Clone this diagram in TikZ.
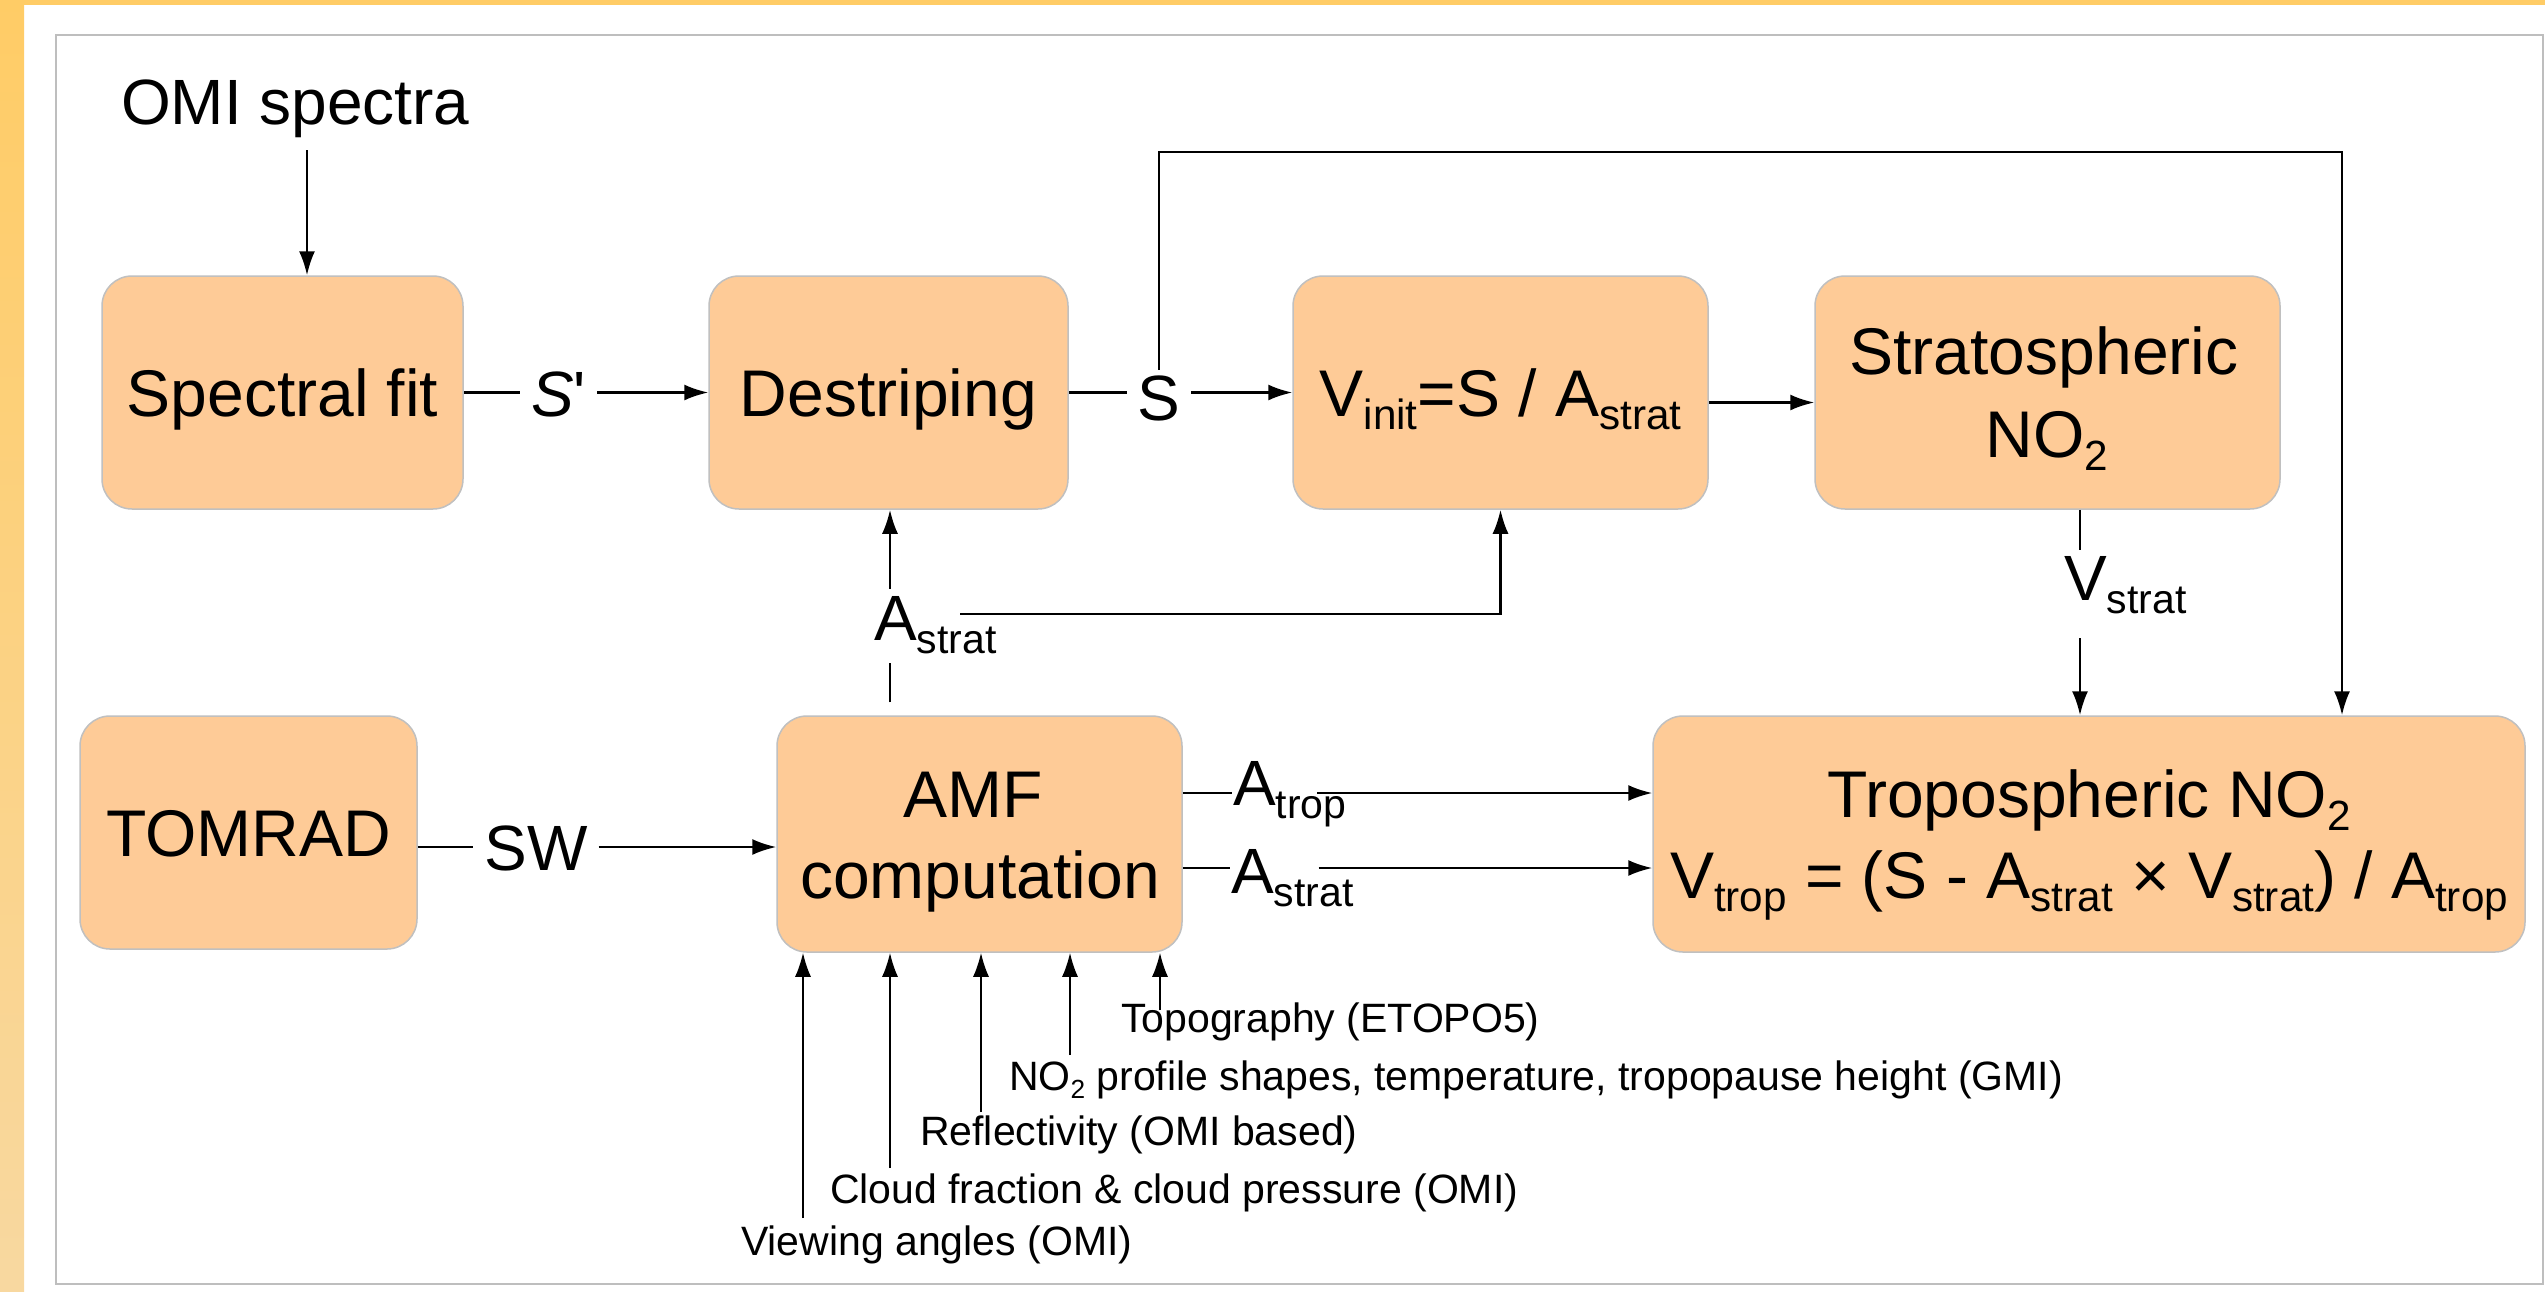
\documentclass[tikz,border=0pt]{standalone}
\usepackage{graphicx}
\usepackage{fontspec}
\setmainfont{Liberation Sans}
\usetikzlibrary{arrows.meta,calc}
\definecolor{boxfill}{HTML}{FECB97}
\definecolor{boxline}{HTML}{C0C0C0}
\definecolor{frameline}{HTML}{BEBEBE}
\definecolor{bandtop}{HTML}{FFCC66}
\definecolor{bandbot}{HTML}{F8D8A0}
\newcommand\lo[1]{\raisebox{-0.21em}{\scalebox{0.64}{#1}}}
\begin{document}
\begin{tikzpicture}[x=1pt,y=-1pt,line width=2.2pt,
  box/.style={draw=boxline,line width=1.5pt,fill=boxfill,rounded corners=30pt,inner sep=0pt,
    text height=47pt,text depth=0pt,font=\fontsize{66}{80}\selectfont},
  btxt/.style={inner sep=0pt,font=\fontsize{66}{80}\selectfont},
  lab/.style={inner sep=0pt,text height=46pt,text depth=0pt,font=\fontsize{64}{76}\selectfont},
  small/.style={inner sep=0pt,font=\fontsize{41}{49}\selectfont},
  arr/.style={-{Latex[length=24pt,width=16pt]}}]
% background and frame
\fill[white] (0,0) rectangle (2545,1291);
\useasboundingbox (0,0) rectangle (2545,1291);
\shade[top color=bandtop,bottom color=bandbot] (0,0) rectangle (24,1291);
\fill[bandtop] (0,0) rectangle (2545,5);
\draw[frameline,line width=2.5pt] (56,35) rectangle (2543,1284);

% boxes
\node[box,minimum width=361pt,minimum height=233pt] (sf) at (282.5,392.5) {Spectral fit};
\node[box,minimum width=359pt,minimum height=233pt] (ds) at (888.5,392.5) {Destriping};
\node[box,minimum width=415pt,minimum height=233pt] (vi) at (1500.5,392.5) {V\lo{init}=S / A\lo{strat}};
\node[box,minimum width=465pt,minimum height=233pt] (st) at (2047.5,392.5) {};
\node[btxt,anchor=base] (st1) at (2044,374) {Stratospheric};
\node[btxt,anchor=base] (st2) at (2047,457) {NO\lo{2}};
\node[box,minimum width=337pt,minimum height=233pt] (tom) at (248.5,832.5) {TOMRAD};
\node[box,minimum width=405pt,minimum height=236pt] (amf) at (979.5,834) {};
\node[btxt,anchor=base] (amf1) at (973,817) {AMF};
\node[btxt,anchor=base] (amf2) at (980,898) {computation};
\node[box,minimum width=872pt,minimum height=236pt] (tr) at (2089,834) {};
\node[btxt,anchor=base] (tr1) at (2089,817) {Tropospheric NO\lo{2}};
\node[btxt,anchor=base] (tr2) at (2089,898) {V\lo{trop} = (S - A\lo{strat} × V\lo{strat}) / A\lo{trop}};

% OMI spectra
\node[inner sep=0pt,font=\fontsize{64}{76}\selectfont,anchor=base west] (omi) at (120,124) {OMI spectra};
\coordinate (omiA) at (307,150);
\draw[arr] (omiA) -- (omiA |- sf.north);

% S'
\node[lab,inner xsep=10pt,anchor=base west] (sp) at (520,416) {\textit{S}\textquotesingle};
\draw (sf.east) -- (sf.east -| sp.west);
\draw[arr] (sp.east |- sf.east) -- (ds.west);

% S
\node[lab,inner xsep=10pt,inner ysep=3pt,anchor=base] (sl) at (1159,420) {S};
\coordinate (loop) at (2342,152);
\draw (ds.east) -- (ds.east -| sl.west);
\draw[arr] (sl.east |- ds.east) -- (vi.west);
\draw[arr] (sl.north) |- (loop) -- (loop |- tr.north);

% Vinit -> strat
\draw[arr] ([yshift=-10pt]vi.east) -- ([yshift=-10pt]st.west);

% V_strat
\node[lab,inner ysep=3pt,anchor=base west] (vs) at (2063,600) {V\lo{strat}};
\coordinate (vsx) at (2080,600);
\draw (st.south -| vsx) -- (vs.north -| vsx);
\draw[arr,shorten <=34pt] (vs.south -| vsx) -- (tr.north -| vsx);

% A_strat (upper)
\node[lab,anchor=base west] (as1) at (873,640) {A\lo{strat}};
\coordinate (asx) at (890,640);
\coordinate (ash) at (960,614);
\draw[shorten <=13pt,shorten >=22pt] (amf.north -| asx) -- (as1.south -| asx);
\draw[arr,shorten <=4pt] (as1.north -| asx) -- (ds.south -| asx);
\draw[arr] (ash) -| (vi.south);

% TOMRAD -> AMF
\node[lab,inner xsep=10pt,anchor=base] (sw) at (536,870) {SW};
\draw (tom.east |- sw) -- (sw.west);
\draw[arr] (sw.east) -- (amf.west |- sw);

% AMF -> Trop
\node[lab,anchor=base west] (at) at (1232,805) {A\lo{trop}};
\node[lab,anchor=base west] (as2) at (1230,893) {A\lo{strat}};
\coordinate (aty) at (1182,793);
\coordinate (asy) at (1182,868);
\draw (amf.east |- aty) -- (aty -| at.west);
\draw[arr] ($(at.east |- aty)+(-30,0)$) -- (tr.west |- aty);
\draw (amf.east |- asy) -- (asy -| as2.west);
\draw[arr] ($(as2.east |- asy)+(-36,0)$) -- (tr.west |- asy);

% inputs to AMF
\node[small,anchor=base west] (t1) at (740,1255) {Viewing angles (OMI)};
\node[small,anchor=base west] (t2) at (829,1203) {Cloud fraction \& cloud pressure (OMI)};
\node[small,anchor=base west] (t3) at (919,1145) {Reflectivity (OMI based)};
\node[small,anchor=base west] (t4) at (1008,1090) {NO\lo{2} profile shapes, temperature, tropopause height (GMI)};
\node[small,anchor=base west] (t5) at (1120,1032) {Topography (ETOPO5)};
\coordinate (in1) at (803,1218);
\coordinate (in2) at (890,1168);
\coordinate (in3) at (981,1112);
\coordinate (in4) at (1070,1055);
\coordinate (in5) at (1160,1010);
\foreach \c in {in1,in2,in3,in4,in5}
  \draw[arr,line width=1.8pt] (\c) -- (amf.south -| \c);
\end{tikzpicture}
\end{document}
